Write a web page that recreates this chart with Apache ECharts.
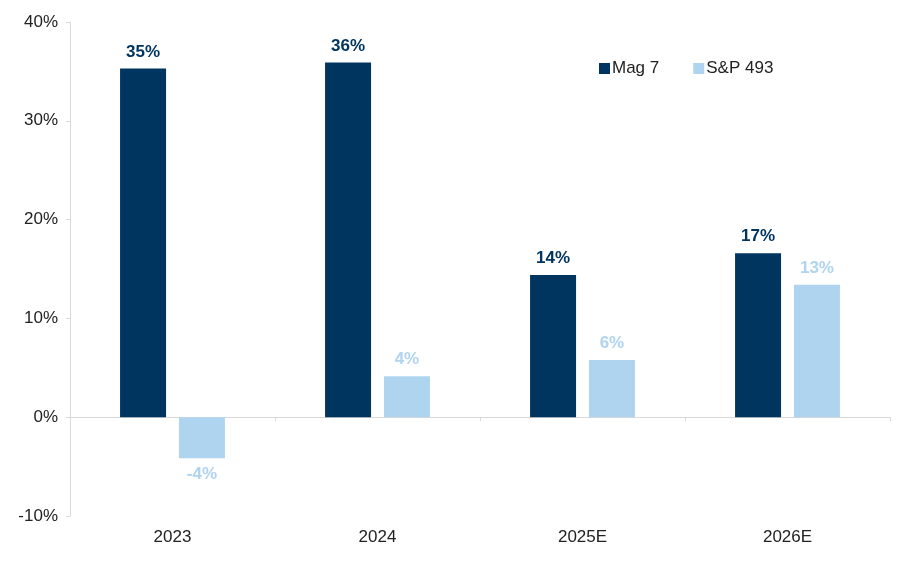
<!DOCTYPE html>
<html>
<head>
<meta charset="utf-8">
<script src="https://cdn.jsdelivr.net/npm/echarts@6/dist/echarts.min.js"></script>
<style>html,body{margin:0;padding:0;background:#fff;}#c{width:910px;height:576px;}</style>
</head>
<body>
<div id="c"></div>
<script>
var categories = ['2023', '2024', '2025E', '2026E'];
var mag7 = [35.3, 35.9, 14.4, 16.6];
var sp493 = [-4.15, 4.15, 5.8, 13.4];
var yTicks = [-10, 0, 10, 20, 30, 40];

var DARK = '#003560';
var LIGHT = '#aed4f0';
var FONT = '"Liberation Sans", Arial, sans-serif';

function items(arr) {
  return arr.map(function (v) {
    return v < 0 ? { value: v, label: { position: 'bottom' } } : v;
  });
}
function fmt(p) { return Math.round(p.value) + '%'; }

var xBase = {
  type: 'category',
  data: categories,
  axisLine: { onZero: true, lineStyle: { color: '#d9d9d9', width: 1 } },
  axisTick: { show: true, length: 4, lineStyle: { color: '#d9d9d9' } },
  axisLabel: { show: false }
};
var xLabels = {
  type: 'category', data: categories, position: 'bottom',
  axisLine: { show: false, onZero: false }, axisTick: { show: false },
  axisLabel: { fontSize: 17, color: '#222', fontFamily: FONT, margin: 13 }
};

var chart = echarts.init(document.getElementById('c'));
chart.setOption({
  animation: false,
  textStyle: { fontFamily: FONT },
  grid: { left: 70, right: 20, top: 22, bottom: 60 },
  legend: {
    left: 594, top: 55,
    itemWidth: 11, itemHeight: 11, itemGap: 34,
    icon: 'rect',
    textStyle: { fontSize: 17, color: '#222', fontFamily: FONT, padding: [0, 0, 0, -3] },
    data: ['Mag 7', 'S&P 493']
  },
  xAxis: [xBase, xLabels],
  yAxis: {
    type: 'value',
    min: yTicks[0], max: yTicks[yTicks.length - 1], interval: 10,
    axisLine: { show: true, lineStyle: { color: '#d9d9d9', width: 1 } },
    axisTick: { show: true, length: 4, lineStyle: { color: '#d9d9d9' } },
    splitLine: { show: false },
    axisLabel: { formatter: '{value}%', fontSize: 17, color: '#222', fontFamily: FONT, margin: 12 }
  },
  series: [
    {
      name: 'Mag 7', type: 'bar', data: items(mag7),
      barWidth: 46, barGap: '28%',
      itemStyle: { color: DARK },
      label: { show: true, position: 'top', formatter: fmt, color: DARK, fontWeight: 'bold', fontSize: 17, fontFamily: FONT, distance: 8 }
    },
    {
      name: 'S&P 493', type: 'bar', data: items(sp493),
      barWidth: 46,
      itemStyle: { color: LIGHT },
      label: { show: true, position: 'top', formatter: fmt, color: LIGHT, fontWeight: 'bold', fontSize: 17, fontFamily: FONT, distance: 8 }
    }
  ]
});
</script>
</body>
</html>
